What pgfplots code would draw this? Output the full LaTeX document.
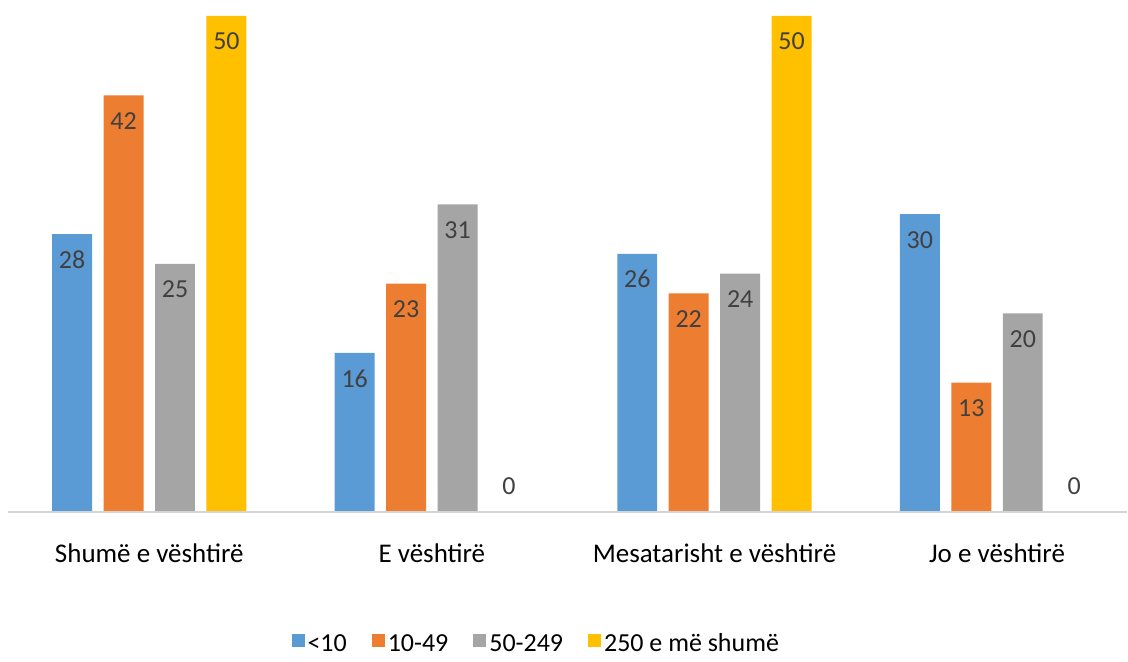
\documentclass[border=0pt]{standalone}
\usepackage{fontspec}
\setmainfont{Carlito}
\usepackage{pgfplots}
\pgfplotsset{compat=1.18}
\definecolor{cblue}{HTML}{5B9BD5}
\definecolor{corange}{HTML}{ED7D31}
\definecolor{cgray}{HTML}{A5A5A5}
\definecolor{cyellow}{HTML}{FFC000}
\definecolor{ctext}{HTML}{404040}
\begin{document}
\begin{tikzpicture}
\begin{axis}[
  scale only axis, width=560pt, height=248pt,
  ymin=0, ymax=50, xmin=-0.5, xmax=3.46,
  ybar=5.75pt, bar width=20pt,
  axis line style={draw=none},
  ytick=\empty,
  xtick={0,1,2,3},
  xticklabels={Shumë e vështirë, E vështirë, Mesatarisht e vështirë, Jo e vështirë},
  xtick style={draw=none},
  xticklabel style={font=\fontsize{13.5}{16}\selectfont, text=black, anchor=base, yshift=-21pt},
  clip=false,
  nodes near coords,
  nodes near coords style={font=\fontsize{13}{15}\selectfont, text=ctext, anchor=center, yshift=-12.75pt},
  coordinate style/.condition={y==0}{yshift=25.25pt},
  /pgf/number format/assume math mode=true,
  legend style={at={(0.4725,-0.268)}, anchor=center, draw=none, fill=none,
    legend columns=-1, font=\fontsize{13}{15}\selectfont, text=black,
    /tikz/every even column/.append style={column sep=11pt},
    nodes={inner sep=1.5pt}},
  legend image code/.code={\fill[#1] (0pt,-1.5pt) rectangle (6.5pt,5pt);},
]
\addplot[fill=cblue, draw=none] coordinates {(0,28) (1,16) (2,26) (3,30)};
\addplot[fill=corange, draw=none] coordinates {(0,42) (1,23) (2,22) (3,13)};
\addplot[fill=cgray, draw=none] coordinates {(0,25) (1,31) (2,24) (3,20)};
\addplot[fill=cyellow, draw=none] coordinates {(0,50) (1,0) (2,50) (3,0)};
\legend{<10, 10-49, 50-249, 250 e më shumë}
\draw[black!17, line width=1pt] (rel axis cs:0,0) -- (rel axis cs:1,0);
\end{axis}
\path[use as bounding box] ([xshift=-4pt,yshift=-70pt]current axis.south west) rectangle ([yshift=8pt]current axis.north east);
\end{tikzpicture}
\end{document}
